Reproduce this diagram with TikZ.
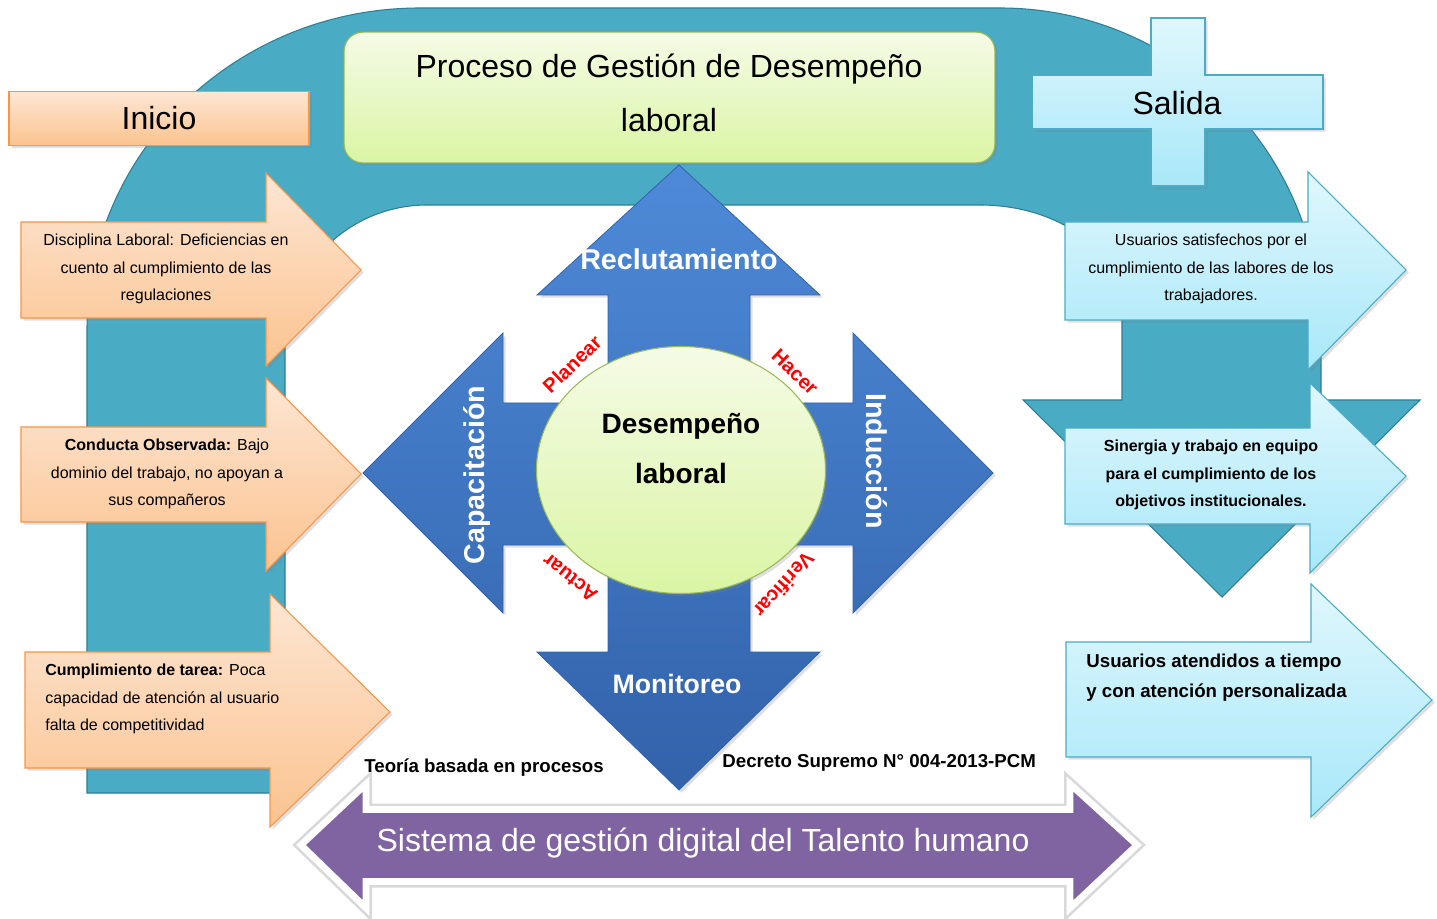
\documentclass[tikz,border=0pt]{standalone}
\usepackage{fontspec}
\setmainfont{Liberation Sans}
\usetikzlibrary{shapes.geometric, shadows}

\definecolor{arco}{HTML}{4AABC5}
\definecolor{arcoBorde}{HTML}{2F7E93}
\definecolor{naranja}{HTML}{F79646}
\definecolor{naranjaA}{HTML}{FDE6D4}
\definecolor{naranjaB}{HTML}{FBC38F}
\definecolor{celeste}{HTML}{4BACC6}
\definecolor{celesteA}{HTML}{E0F7FD}
\definecolor{celesteB}{HTML}{A8E8F9}
\definecolor{verde}{HTML}{9BBB59}
\definecolor{verdeA}{HTML}{F5FBE6}
\definecolor{verdeB}{HTML}{DAF5A4}
\definecolor{azulA}{HTML}{4E8AD8}
\definecolor{azulB}{HTML}{3262AA}
\definecolor{morado}{HTML}{8064A2}

\begin{document}
\begin{tikzpicture}[
            x = 0.75pt, y = -0.75pt, % 1 unit = 1 px of the layout
            line join = miter,
            semithick,
            sombra/.style = {drop shadow = {opacity = 0.25, shadow xshift = 2pt, shadow yshift = -2pt}}
        ]

        \tikzstyle{naranjo}=[
            draw = naranja, thick,
            top color = naranjaA, bottom color = naranjaB,
            sombra
        ]
        \tikzstyle{celestito}=[
            draw = celeste, thick,
            top color = celesteA, bottom color = celesteB,
            sombra
        ]
        \tikzstyle{verdoso}=[
            draw = verde, thick,
            top color = verdeA, bottom color = verdeB,
            sombra
        ]
        \tikzstyle{texto}=[
            inner sep = 0pt, align = center,
            font = \fontsize{12}{20.6}\selectfont
        ]
        \tikzstyle{blanco}=[
            inner sep = 0pt, text = white,
            font = \fontsize{21.5}{25}\selectfont\bfseries
        ]
        \tikzstyle{pdca}=[
            inner sep = 0pt, text = red,
            font = \fontsize{15}{18}\selectfont\bfseries
        ]

        \fill[white] (0,0) rectangle (1437,919);
        \useasboundingbox (0,0) rectangle (1437,919);

        % arco de fondo
        \draw[fill = arco, draw = arcoBorde, thick]
            (87,793) -- (87,330) .. controls (87,152) and (236,8) .. (420,8)
            -- (1000,8) .. controls (1177,8) and (1321,152) .. (1321,330)
            -- (1321,400) -- (1420,400) -- (1222,597) -- (1023,400) -- (1122,400)
            -- (1122,310) .. controls (1122,252) and (1060,205) .. (980,205)
            -- (427,205) .. controls (349,205) and (285,268) .. (285,345)
            -- (285,793) -- cycle;

        % entradas
        \draw[naranjo] (21,222) -- (266,222) -- (266,173) -- (361,270) -- (266,366) -- (266,318) -- (21,318) -- cycle;
        \draw[naranjo] (21,427) -- (266,427) -- (266,378) -- (361,474) -- (266,571) -- (266,522) -- (21,522) -- cycle;
        \draw[naranjo] (25,652) -- (270,652) -- (270,594) -- (390,712) -- (270,827) -- (270,768) -- (25,768) -- cycle;
        \node[texto] (e1) at (166,269) {Disciplina Laboral: Deficiencias en\\cuento al cumplimiento de las\\regulaciones};
        \node[texto] (e2) at (167,474) {\textbf{Conducta Observada:} Bajo\\dominio del trabajo, no apoyan a\\sus compañeros};
        \node[texto, align = left, anchor = west] (e3) at (45,699) {\textbf{Cumplimiento de tarea:} Poca\\capacidad de atención al usuario\\falta de competitividad};

        % salidas
        \draw[celestito] (1065,222) -- (1308,222) -- (1308,172) -- (1406,270) -- (1308,370) -- (1308,320) -- (1065,320) -- cycle;
        \draw[celestito] (1065,428) -- (1310,428) -- (1310,383) -- (1406,476) -- (1310,573) -- (1310,524) -- (1065,524) -- cycle;
        \draw[celestito] (1066,642) -- (1311,642) -- (1311,584) -- (1432,700) -- (1311,817) -- (1311,757) -- (1066,757) -- cycle;
        \node[texto] (s1) at (1211,269) {Usuarios satisfechos por el\\cumplimiento de las labores de los\\trabajadores.};
        \node[texto, font = \fontsize{12}{20.6}\selectfont\bfseries] (s2) at (1211,475) {Sinergia y trabajo en equipo\\para el cumplimiento de los\\objetivos institucionales.};
        \node[texto, align = left, anchor = west, font = \fontsize{14}{22.5}\selectfont\bfseries] (s3) at (1086,678) {Usuarios atendidos a tiempo\\y con atención personalizada};

        % cajas de arriba
        \node[verdoso, rectangle, rounded corners = 14pt, minimum width = 488pt, minimum height = 98pt] (tit) at (669.5,97.5) {};
        \node[inner sep = 0pt, align = center, font = \fontsize{24}{40.5}\selectfont] (titt) at (669,93)
              {Proceso de Gestión de Desempeño\\laboral};
        \node[naranjo, rectangle, minimum width = 225pt, minimum height = 40pt,
              font = \fontsize{24}{28}\selectfont] (ini) at (159,118.5) {Inicio};
        \draw[celestito] (1151,18) -- (1205,18) -- (1205,75) -- (1323,75) -- (1323,129) -- (1205,129)
            -- (1205,186) -- (1151,186) -- (1151,129) -- (1032,129) -- (1032,75) -- (1151,75) -- cycle;
        \node[font = \fontsize{24}{28}\selectfont, inner sep = 0pt] (sal) at (1177,103) {Salida};

        % cruz azul
        \draw[draw = azulB, top color = azulA, bottom color = azulB, sombra]
            (679,165) -- (820,295) -- (750,295) -- (750,403) -- (853,403) -- (853,333) -- (993,473)
            -- (853,613) -- (853,545) -- (750,545) -- (750,652) -- (820,652) -- (679,790)
            -- (537,652) -- (608,652) -- (608,545) -- (503,545) -- (503,613) -- (363,473)
            -- (503,333) -- (503,403) -- (608,403) -- (608,295) -- (537,295) -- cycle;
        \node[blanco] (rec) at (679,259) {Reclutamiento};
        \node[blanco, font = \fontsize{20}{24}\selectfont\bfseries] (mon) at (677,684) {Monitoreo};
        \node[blanco, rotate = 90] (cap) at (477,475) {Capacitación};
        \node[blanco, rotate = -90] (ind) at (877,461) {Inducción};

        % centro
        \node[ellipse, verdoso, minimum width = 216.75pt, minimum height = 185.25pt] (dl) at (681,470) {};
        \node[inner sep = 0pt, align = center, font = \fontsize{21}{37.5}\selectfont\bfseries] (dlt) at (681,449) {Desempeño\\laboral};

        % ciclo PHVA
        \node[pdca, rotate = 44] (p) at (572,364) {Planear};
        \node[pdca, rotate = -44] (h) at (795,372) {Hacer};
        \node[pdca, rotate = -132] (v) at (784,585) {Verificar};
        \node[pdca, rotate = 142] (a) at (570,578) {Actuar};

        % flecha doble de abajo
        \draw[fill = morado, draw = white, line width = 5pt,
              preaction = {draw = black!15, line width = 9pt}]
            (301,845) -- (366,784) -- (366,809.5) -- (1070,809.5) -- (1070,784) -- (1137,845)
            -- (1070,908) -- (1070,881.5) -- (366,881.5) -- (366,908) -- cycle;
        \node[text = white, font = \fontsize{24}{28}\selectfont, inner sep = 0pt] (sis) at (703,843) {Sistema de gestión digital del Talento humano};

        \node[anchor = west, inner sep = 0pt, font = \fontsize{14}{17}\selectfont\bfseries] (teo) at (364,768) {Teoría basada en procesos};
        \node[anchor = west, inner sep = 0pt, font = \fontsize{14}{17}\selectfont\bfseries] (dec) at (722,763) {Decreto Supremo N° 004-2013-PCM};
    \end{tikzpicture}
\end{document}
